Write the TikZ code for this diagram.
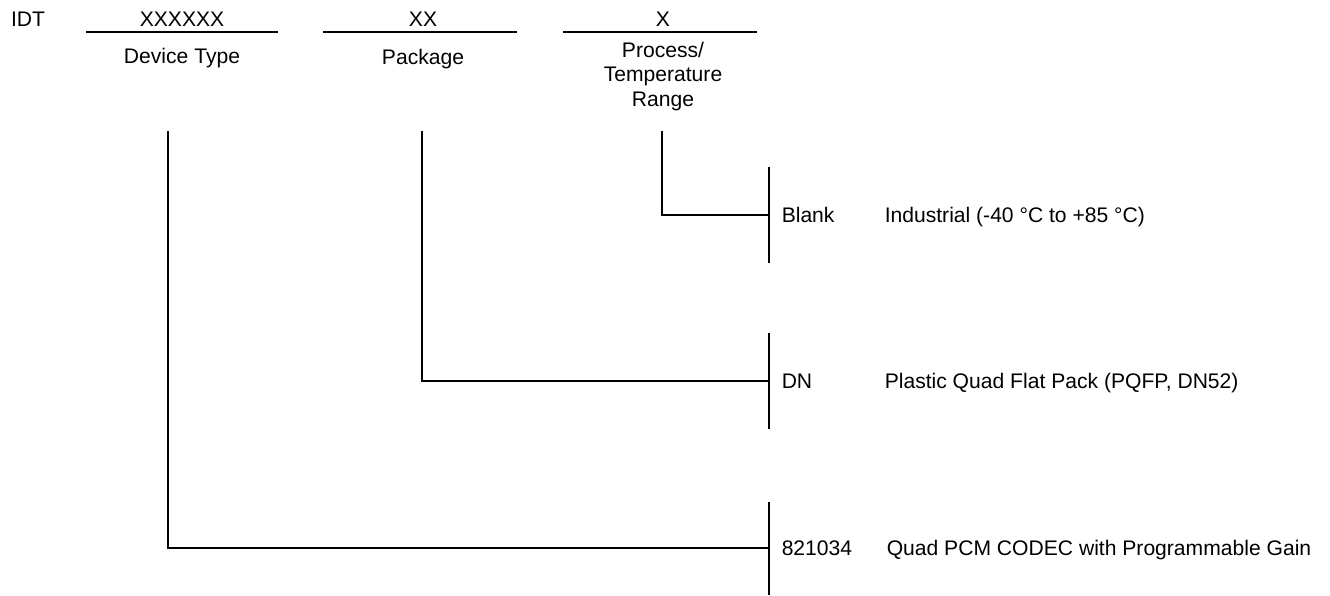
\documentclass[tikz,border=0pt]{standalone}
\usepackage{fontspec}
\setmainfont{Liberation Sans}
\begin{document}
\begin{tikzpicture}[x=1pt,y=-1pt,line width=1.5pt]
\tikzstyle{every node}+=[inner sep=0pt,font=\fontsize{21.1}{24.5}\selectfont]
\tikzstyle{field}=[anchor=base]
\tikzstyle{code}=[anchor=base west]
\useasboundingbox (0,0) rectangle (1330,595);
\node [field] (idt) at (28,26) {IDT};
\node [field] (type) at (182,26) {XXXXXX};
\node [field] (pkg) at (423,26) {XX};
\node [field] (temp) at (663,26) {X};
\coordinate (typew) at (86,32);
\coordinate (typee) at (278,32);
\coordinate (pkgw) at (323,32);
\coordinate (pkge) at (517,32);
\coordinate (tempw) at (563,32);
\coordinate (tempe) at (757,32);
\draw [black] (typew) -- (typee);
\draw [black] (pkgw) -- (pkge);
\draw [black] (tempw) -- (tempe);
\node [field] (typelbl) at (182,63) {Device Type};
\node [field] (pkglbl) at (423,64) {Package};
\node [field,align=center] (templbl) at (663,106) {Process/\\Temperature\\Range};
\coordinate (typedrop) at (168,131);
\coordinate (pkgdrop) at (422,131);
\coordinate (tempdrop) at (662,131);
\coordinate (bartemp) at (769,215);
\coordinate (barpkg) at (769,381);
\coordinate (bartype) at (769,548);
\draw [black] (769,167) -- (769,263);
\draw [black] (769,333) -- (769,429);
\draw [black] (769,502) -- (769,595);
\draw [black] (tempdrop) |- (bartemp);
\draw [black] (pkgdrop) |- (barpkg);
\draw [black] (typedrop) |- (bartype);
\node [code] (blank) at (781,222) {Blank};
\node [code] (dn) at (781,388) {DN};
\node [code] (num) at (781,555) {821034};
\node [code] (blankdesc) at (884,222) {Industrial (-40 °C to +85 °C)};
\node [code] (dndesc) at (884,388) {Plastic Quad Flat Pack (PQFP, DN52)};
\node [code] (numdesc) at (886,555) {Quad PCM CODEC with Programmable Gain};
\end{tikzpicture}
\end{document}
